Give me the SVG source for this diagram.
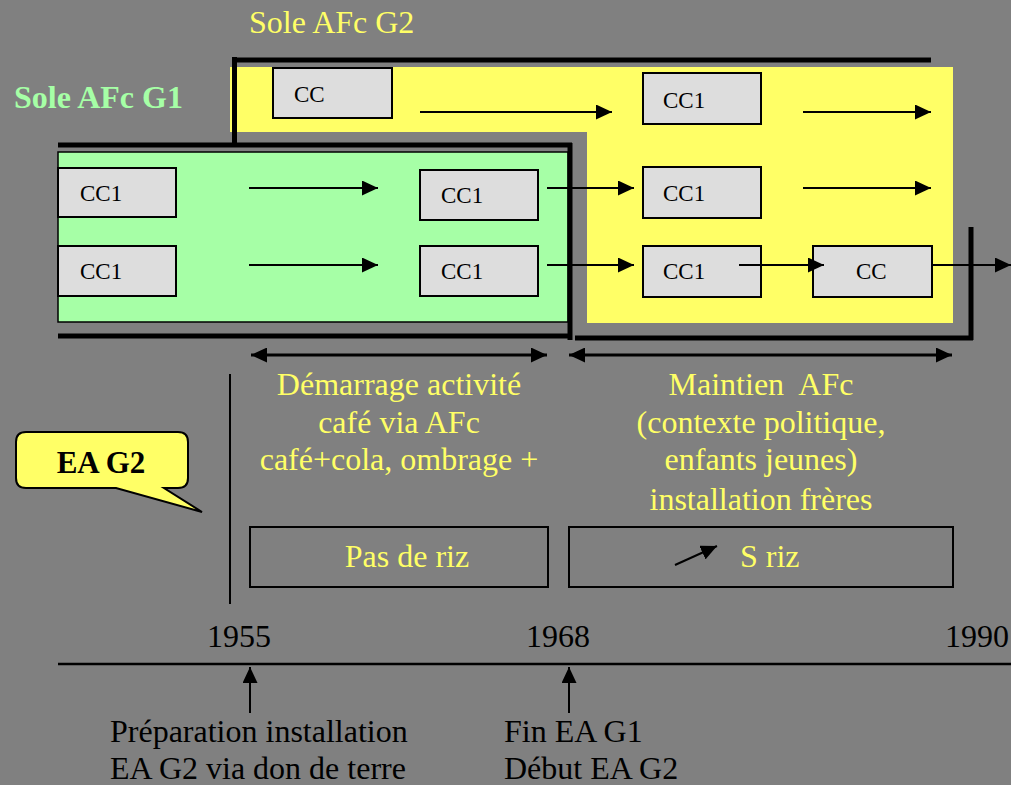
<svg xmlns="http://www.w3.org/2000/svg" width="1011" height="785" viewBox="0 0 1011 785">
<defs>
<style>
text{font-family:"Liberation Serif","Times New Roman",serif;}
.yt{fill:#FFFF66;font-size:32px;}
.bt{fill:#000;font-size:32px;}
.cc{fill:#000;font-size:23px;}
.box{fill:#DDDDDD;stroke:#000;stroke-width:2;}
.thick{stroke:#000;stroke-width:5;fill:none;}
.arr{stroke:#000;stroke-width:2;fill:none;marker-end:url(#ah);}
.darr{stroke:#000;stroke-width:3;fill:none;marker-start:url(#dh);marker-end:url(#dh);}
.frame{fill:none;stroke:#000;stroke-width:2;}
</style>
<marker id="ah" viewBox="0 0 16 15" refX="16" refY="7.5" markerWidth="16" markerHeight="15" markerUnits="userSpaceOnUse" orient="auto"><path d="M0,0 L16,7.5 L0,15 Z" fill="#000"/></marker>
<marker id="dh" viewBox="0 0 16 15" refX="16" refY="7.5" markerWidth="16" markerHeight="15" markerUnits="userSpaceOnUse" orient="auto-start-reverse"><path d="M0,0 L16,7.5 L0,15 Z" fill="#000"/></marker>
</defs>
<rect x="0" y="0" width="1011" height="785" fill="#808080"/>

<g id="sole-g2">
<path d="M230 67 H953 V323 H587 V132 H230 Z" fill="#FFFF66"/>
<line class="thick" x1="232" y1="60" x2="931" y2="60" stroke-width="6"/>
<line class="thick" x1="234.5" y1="57" x2="234.5" y2="147"/>
<line class="thick" x1="575" y1="338" x2="973" y2="338"/>
<line class="thick" x1="971" y1="227" x2="971" y2="340"/>
<text class="yt" x="249" y="33">Sole AFc G2</text>
</g>

<g id="sole-g1">
<rect x="58" y="152" width="510" height="170" fill="#A6FFA6" stroke="#000" stroke-width="1.5"/>
<line class="thick" x1="58" y1="145" x2="572" y2="145"/>
<line class="thick" x1="570" y1="143" x2="570" y2="340"/>
<line class="thick" x1="58" y1="336" x2="572" y2="336"/>
<text x="14" y="108" font-size="32" font-weight="bold" fill="#A6FFA6">Sole AFc G1</text>
</g>

<g id="n-cc-top"><rect class="box" x="273" y="68" width="119" height="50"/><text class="cc" x="294" y="102">CC</text></g>
<g id="n-cc1-r1"><rect class="box" x="643" y="73" width="118" height="51"/><text class="cc" x="663" y="108">CC1</text></g>
<g id="n-cc1-l2"><rect class="box" x="58" y="168" width="118" height="49"/><text class="cc" x="80" y="201">CC1</text></g>
<g id="n-cc1-l3"><rect class="box" x="58" y="246" width="118" height="50"/><text class="cc" x="80" y="279">CC1</text></g>
<g id="n-cc1-m2"><rect class="box" x="420" y="170" width="118" height="50"/><text class="cc" x="441" y="203">CC1</text></g>
<g id="n-cc1-m3"><rect class="box" x="420" y="246" width="118" height="50"/><text class="cc" x="441" y="279">CC1</text></g>
<g id="n-cc1-r2"><rect class="box" x="643" y="167" width="118" height="51"/><text class="cc" x="663" y="201">CC1</text></g>
<g id="n-cc1-r3"><rect class="box" x="643" y="246" width="118" height="51"/><text class="cc" x="663" y="279">CC1</text></g>
<g id="n-cc-r3"><rect class="box" x="813" y="246" width="119" height="51"/><text class="cc" x="856" y="279">CC</text></g>

<g id="connectors">
<line class="arr" x1="420" y1="112" x2="612" y2="112"/>
<line class="arr" x1="803" y1="112" x2="931" y2="112"/>
<line class="arr" x1="249" y1="188" x2="378" y2="188"/>
<line class="arr" x1="249" y1="265" x2="378" y2="265"/>
<line class="arr" x1="547" y1="188" x2="634" y2="188"/>
<line class="arr" x1="547" y1="265" x2="634" y2="265"/>
<line class="arr" x1="803" y1="188" x2="931" y2="188"/>
<line class="arr" x1="739" y1="265" x2="824" y2="265"/>
<line class="arr" x1="932" y1="265" x2="1011" y2="265"/>
<line class="darr" x1="251" y1="355" x2="547" y2="355"/>
<line class="darr" x1="569" y1="355" x2="952" y2="355"/>
<line class="arr" x1="675" y1="565" x2="717" y2="546"/>
<line class="arr" x1="250" y1="713" x2="250" y2="667"/>
<line class="arr" x1="569" y1="713" x2="569" y2="667"/>
<line stroke="#000" stroke-width="2.5" x1="58" y1="664" x2="1011" y2="664"/>
<line stroke="#000" stroke-width="2" x1="230" y1="374" x2="230" y2="604"/>
</g>

<g id="label-demarrage">
<text class="yt" text-anchor="middle" x="399" y="395">Démarrage activité</text>
<text class="yt" text-anchor="middle" x="399" y="433">café via AFc</text>
<text class="yt" text-anchor="middle" x="399" y="470">café+cola, ombrage +</text>
</g>
<g id="label-maintien">
<text class="yt" text-anchor="middle" x="761" y="395" xml:space="preserve">Maintien  AFc</text>
<text class="yt" text-anchor="middle" x="761" y="433">(contexte politique,</text>
<text class="yt" text-anchor="middle" x="761" y="470">enfants jeunes)</text>
<text class="yt" text-anchor="middle" x="761" y="510">installation frères</text>
</g>

<g id="callout-ea-g2">
<path d="M26 432 H178 Q188 432 188 442 V478 Q188 488 178 488 H164 L202 512 L116 488 H26 Q16 488 16 478 V442 Q16 432 26 432 Z" fill="#FFFF66" stroke="#000" stroke-width="2"/>
<text x="101" y="473" text-anchor="middle" font-size="31" font-weight="bold" fill="#000">EA G2</text>
</g>

<g id="box-pas-de-riz">
<rect class="frame" x="250" y="527" width="298" height="60"/>
<text class="yt" text-anchor="middle" x="407" y="567">Pas de riz</text>
</g>
<g id="box-s-riz">
<rect class="frame" x="569" y="527" width="384" height="60"/>
<text class="yt" x="740" y="567">S riz</text>
</g>

<g id="timeline">
<text class="bt" x="207" y="647">1955</text>
<text class="bt" x="526" y="647">1968</text>
<text class="bt" x="945" y="647">1990</text>
<text class="bt" x="110" y="742">Préparation installation</text>
<text class="bt" x="110" y="779">EA G2 via don de terre</text>
<text class="bt" x="504" y="742">Fin EA G1</text>
<text class="bt" x="504" y="779">Début EA G2</text>
</g>
</svg>
